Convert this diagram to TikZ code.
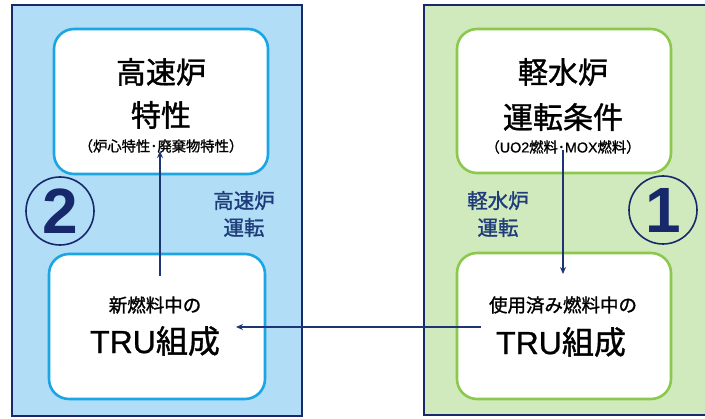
\documentclass[tikz,border=0pt]{standalone}
\usepackage{fontspec}
\setmainfont{Noto Sans CJK JP}[FakeBold=1.2]
\newfontfamily\latinf{Liberation Sans}[FakeBold=0.8]
\newfontfamily\numf{Liberation Sans}
\usetikzlibrary{arrows.meta}
\definecolor{navy}{HTML}{17296A}
\definecolor{arrowc}{HTML}{1E3575}
\definecolor{bluefill}{HTML}{B1DDF7}
\definecolor{blueline}{HTML}{1AA6E4}
\definecolor{greenfill}{HTML}{D0EABD}
\definecolor{greenline}{HTML}{8CC84E}
\definecolor{labelc}{HTML}{1F3C7A}
\tikzset{
  outerbox/.style={draw=navy, line width=2.2pt},
  innerbox/.style={fill=white, line width=2.6pt, rounded corners=20pt},
  bigtxt/.style={font=\fontsize{30}{32}\selectfont, inner sep=0pt},
  smalltxt/.style={font=\fontsize{14.3}{16}\selectfont, inner sep=0pt},
  midtxt/.style={font=\fontsize{18.5}{20}\selectfont, inner sep=0pt},
  trutxt/.style={font=\fontsize{32}{34}\selectfont, inner sep=0pt},
  lbl/.style={font=\fontsize{20.5}{27}\selectfont, text=labelc, align=center, inner sep=0pt},
  arr/.style={draw=arrowc, line width=1.5pt, -{Stealth[length=7pt,width=6pt]}},
  circnum/.style={circle, draw=navy, line width=1.6pt, minimum size=68pt, inner sep=0pt,
    text=navy, font=\fontsize{64}{64}\selectfont\bfseries\numf},
}
\begin{document}
\begin{tikzpicture}[x=1pt,y=-1pt]
\useasboundingbox (0,0) rectangle (705,419);
% outer panels
\path[outerbox, fill=bluefill] (12,5) rectangle (302,416);
\path[outerbox, fill=greenfill] (424,5) rectangle (712,415);
% inner boxes
\path[innerbox, draw=blueline] (54,29) rectangle (268,174);
\path[innerbox, draw=blueline] (49,254) rectangle (265,399);
\path[innerbox, draw=greenline] (457,29) rectangle (671,173);
\path[innerbox, draw=greenline] (457,253) rectangle (671,399);
% left top texts
\node[bigtxt] (lt1) at (161,72) {高速炉};
\node[bigtxt] (lt2) at (161,115) {特性};
\node[smalltxt] (lt3) at (161,146) {（炉心特性･廃棄物特性）};
% left bottom texts
\node[midtxt] (lb1) at (155,305) {新燃料中の};
\node[trutxt] (lb2) at (155,341) {{\latinf TRU}組成};
% right top texts
\node[bigtxt] (rt1) at (563,72) {軽水炉};
\node[bigtxt] (rt2) at (563,117) {運転条件};
\node[smalltxt] (rt3) at (563,147) {（{\latinf UO2}燃料･{\latinf MOX}燃料）};
% right bottom texts
\node[midtxt] (rb1) at (563,305) {使用済み燃料中の};
\node[trutxt] (rb2) at (561,342) {{\latinf TRU}組成};
% labels
\node[lbl] (lblL) at (244,214) {高速炉\\運転};
\node[lbl] (lblR) at (498,214) {軽水炉\\運転};
% circled numbers
\node[circnum] (c2) at (60,211) {2};
\node[circnum] (c1) at (663,210) {1};
% arrow anchors
\coordinate (aLs) at (160,276);
\coordinate (aLe) at (160,151);
\coordinate (aRs) at (563,150);
\coordinate (aRe) at (563,274);
\coordinate (aHs) at (481,327);
\coordinate (aHe) at (236,327);
\draw[arr] (aLs) -- (aLe);
\draw[arr] (aRs) -- (aRe);
\draw[arr] (aHs) -- (aHe);
\end{tikzpicture}
\end{document}
